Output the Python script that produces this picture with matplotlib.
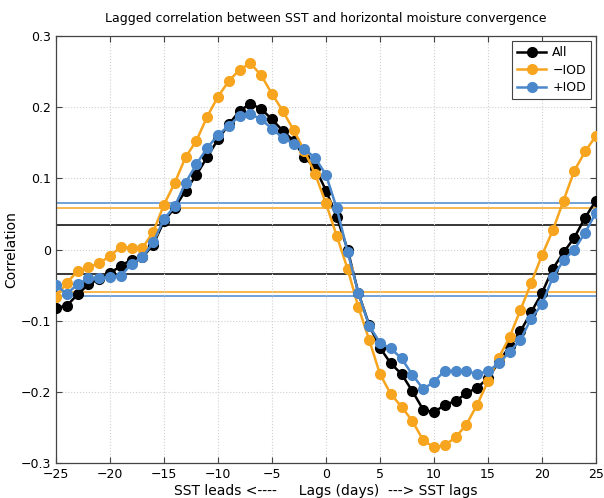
import numpy as np
import matplotlib.pyplot as plt
from matplotlib.ticker import MultipleLocator

# lags in days
lags = np.arange(-25, 26)

# correlation, all events
corr_all = [-0.082, -0.079, -0.063, -0.049, -0.041, -0.033, -0.023, -0.014, -0.011, 0.007,
            0.040, 0.059, 0.083, 0.105, 0.130, 0.155, 0.176, 0.195, 0.205, 0.198,
            0.183, 0.167, 0.153, 0.130, 0.115, 0.083, 0.046, 0.000, -0.061, -0.106,
            -0.138, -0.160, -0.175, -0.199, -0.225, -0.229, -0.218, -0.213, -0.202, -0.194,
            -0.181, -0.158, -0.136, -0.115, -0.088, -0.061, -0.027, -0.004, 0.017, 0.045,
            0.069]
# negative IOD years
corr_neg = [-0.066, -0.047, -0.030, -0.025, -0.019, -0.009, 0.004, 0.002, 0.002, 0.025,
            0.063, 0.094, 0.130, 0.153, 0.187, 0.215, 0.237, 0.253, 0.262, 0.245,
            0.219, 0.195, 0.168, 0.139, 0.106, 0.065, 0.019, -0.027, -0.081, -0.127,
            -0.175, -0.203, -0.221, -0.241, -0.268, -0.278, -0.275, -0.264, -0.246, -0.218,
            -0.185, -0.152, -0.123, -0.085, -0.047, -0.008, 0.027, 0.069, 0.111, 0.138,
            0.160]
# positive IOD years
corr_pos = [-0.050, -0.062, -0.049, -0.040, -0.040, -0.039, -0.037, -0.020, -0.011, 0.010,
            0.043, 0.061, 0.094, 0.120, 0.143, 0.161, 0.174, 0.188, 0.191, 0.183,
            0.170, 0.157, 0.149, 0.141, 0.129, 0.105, 0.058, -0.003, -0.061, -0.107,
            -0.131, -0.139, -0.153, -0.176, -0.196, -0.186, -0.170, -0.171, -0.171, -0.175,
            -0.171, -0.160, -0.144, -0.127, -0.097, -0.077, -0.039, -0.015, 0.000, 0.024,
            0.052]

# significance levels (+/-)
sig_all = 0.034
sig_neg = 0.059
sig_pos = 0.065

c_all = 'black'
c_neg = '#F7A41F'
c_pos = '#4A87CB'

fig = plt.figure(figsize=(6.04, 4.98), dpi=100)
ax = fig.add_axes([0.0927, 0.0703, 0.894, 0.857])

# significance lines
for s, c in [(sig_all, c_all), (sig_neg, c_neg), (sig_pos, c_pos)]:
    ax.axhline(s, color=c, linewidth=1.1, zorder=1)
    ax.axhline(-s, color=c, linewidth=1.1, zorder=1)

ax.plot(lags, corr_all, '-o', color=c_all, linewidth=1.8, markersize=7, label='All', zorder=3)
ax.plot(lags, corr_neg, '-o', color=c_neg, linewidth=1.8, markersize=7, label='\u2212IOD', zorder=3)
ax.plot(lags, corr_pos, '-o', color=c_pos, linewidth=1.8, markersize=7, label='+IOD', zorder=4)

ax.set_xlim(-25, 25)
ax.set_ylim(-0.3, 0.3)
ax.set_xticks(np.arange(-25, 26, 5))
ax.set_xticklabels(['\u221225', '\u221220', '\u221215', '\u221210', '\u22125', '0',
                    '5', '10', '15', '20', '25'])
ax.set_yticks([-0.3, -0.2, -0.1, 0, 0.1, 0.2, 0.3])
ax.set_yticklabels(['\u22120.3', '\u22120.2', '\u22120.1', '0', '0.1', '0.2', '0.3'])
ax.tick_params(direction='in', top=True, right=True, labelsize=9, length=4, width=0.8,
               color='#444444')
ax.grid(True, color='#d0d0d0', linestyle=':', linewidth=0.8)
for sp in ax.spines.values():
    sp.set_color('#444444')
    sp.set_linewidth(0.9)

ax.set_title('Lagged correlation between SST and horizontal moisture convergence',
             fontsize=9, pad=10)
ax.set_xlabel('SST leads <----     Lags (days)  ---> SST lags', fontsize=10, labelpad=2)
ax.set_ylabel('Correlation', fontsize=10, labelpad=2)

leg = ax.legend(loc='upper right', fontsize=9, fancybox=False, framealpha=1,
                edgecolor='#444444', handlelength=2.3, borderaxespad=0.4,
                labelspacing=0.35, handletextpad=0.5, borderpad=0.4)
leg.get_frame().set_linewidth(0.8)

plt.savefig('out.png', dpi=100)
